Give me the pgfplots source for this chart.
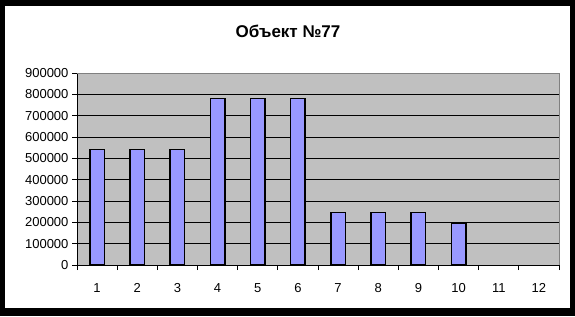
\documentclass[border=0pt]{standalone}
\usepackage{fontspec}
\setmainfont{Liberation Sans}
\usepackage{pgfplots}
\pgfplotsset{compat=1.18}
\definecolor{plotgray}{HTML}{C0C0C0}
\definecolor{barblue}{HTML}{9999FF}
\definecolor{bordergray}{HTML}{808080}
\begin{document}
\begin{tikzpicture}[x=1pt,y=1pt]
\fill[black] (0,0) rectangle (575,316);
\fill[white] (5,8) rectangle (570,310);
\node[anchor=base,inner sep=0pt,font=\fontsize{17}{20}\selectfont\bfseries] at (288,278.5) {Объект №77};
\begin{axis}[
  at={(77pt,51pt)}, anchor=south west,
  scale only axis, width=482pt, height=192pt,
  xmin=0.5, xmax=12.5, ymin=0, ymax=900000,
  ybar, bar width=14.5pt,
  axis background/.style={fill=plotgray},
  axis x line*=bottom, axis y line*=left,
  axis line style={-, black, line width=0.8pt},
  xtick={0.5,1.5,...,12.5},
  x tick label as interval,
  xticklabels={1,2,3,4,5,6,7,8,9,10,11,12},
  xticklabel style={yshift=-10pt},
  ytick={0,100000,...,800000},
  extra y ticks={900000},
  extra y tick style={grid=none},
  ymajorgrids, major grid style={black, line width=0.8pt},
  tick align=outside, major tick length=5pt,
  tick style={black, line width=0.8pt},
  scaled y ticks=false,
  /pgf/number format/assume math mode=true,
  yticklabel style={/pgf/number format/fixed, /pgf/number format/1000 sep={}},
  ticklabel style={font=\fontsize{13}{15}\selectfont},
  clip=false,
]
\addplot[fill=barblue, draw=black, line width=1.4pt] coordinates {
 (1,540000) (2,540000) (3,540000) (4,780000) (5,780000) (6,780000)
 (7,247000) (8,247000) (9,247000) (10,196000)};
\draw[bordergray, line width=0.8pt] (axis cs:0.5,900000) -- (axis cs:12.5,900000) -- (axis cs:12.5,0);
\end{axis}
\end{tikzpicture}
\end{document}
